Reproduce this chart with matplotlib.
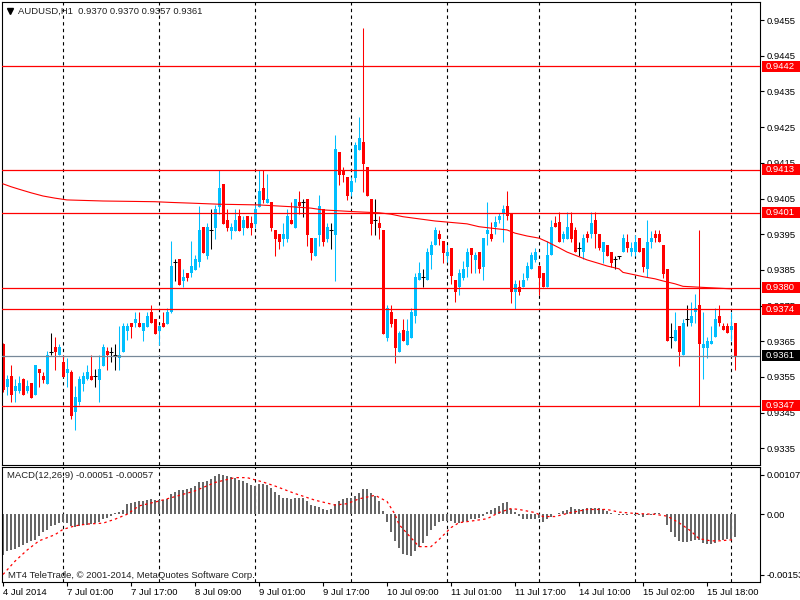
import matplotlib
matplotlib.use("Agg")
import matplotlib.pyplot as plt
import matplotlib.transforms as mtransforms
from matplotlib.patches import Rectangle

plt.rcParams["font.family"] = ["Liberation Sans", "DejaVu Sans"]
plt.rcParams["font.size"] = 6.8

# AUDUSD H1, 4 Jul 2014 - 16 Jul 2014, one value per bar
open_ = [
    0.93642, 0.93523, 0.93553, 0.93512, 0.93512, 0.93544, 0.93512, 0.93533, 0.93500, 0.93572,
    0.93553, 0.93531, 0.93621, 0.93634, 0.93611, 0.93592, 0.93562, 0.93564, 0.93453, 0.93481,
    0.93531, 0.93544, 0.93553, 0.93553, 0.93542, 0.93581, 0.93623, 0.93621, 0.93611, 0.93602,
    0.93621, 0.93680, 0.93701, 0.93701, 0.93701, 0.93680, 0.93690, 0.93732, 0.93712, 0.93680,
    0.93701, 0.93699, 0.93732, 0.93871, 0.93881, 0.93820, 0.93841, 0.93840, 0.93851, 0.93871,
    0.93970, 0.93890, 0.93961, 0.93968, 0.94027, 0.94091, 0.93990, 0.93959, 0.93959, 0.94001,
    0.93968, 0.94001, 0.93981, 0.93979, 0.94027, 0.94079, 0.94038, 0.94040, 0.93962, 0.93951,
    0.93937, 0.93937, 0.93990, 0.93968, 0.94040, 0.94040, 0.94049, 0.93939, 0.93890, 0.93949,
    0.94021, 0.93937, 0.93961, 0.93949, 0.94180, 0.94128, 0.94110, 0.94069, 0.94108, 0.94187,
    0.94208, 0.94138, 0.94049, 0.93990, 0.93982, 0.93962, 0.93660, 0.93731, 0.93712, 0.93621,
    0.93682, 0.93640, 0.93660, 0.93720, 0.93821, 0.93830, 0.93821, 0.93891, 0.93919, 0.93951,
    0.93931, 0.93890, 0.93911, 0.93822, 0.93801, 0.93828, 0.93859, 0.93911, 0.93878, 0.93900,
    0.93859, 0.93950, 0.93951, 0.93970, 0.93989, 0.94009, 0.94029, 0.94010, 0.93788, 0.93801,
    0.93801, 0.93828, 0.93852, 0.93878, 0.93861, 0.93840, 0.93801, 0.93891, 0.93982, 0.93984,
    0.93937, 0.93937, 0.93980, 0.93962, 0.93910, 0.93899, 0.93950, 0.93950, 0.93990, 0.93950,
    0.93899, 0.93920, 0.93899, 0.93880, 0.93889, 0.93899, 0.93929, 0.93899, 0.93899, 0.93938,
    0.93910, 0.93852, 0.93929, 0.93950, 0.93950, 0.93920, 0.93852, 0.93661, 0.93652, 0.93693,
    0.93611, 0.93712, 0.93702, 0.93733, 0.93752, 0.93632, 0.93632, 0.93642, 0.93661, 0.93722,
    0.93693, 0.93693, 0.93682, 0.93700,
]
high = [
    0.93645, 0.93556, 0.93584, 0.93544, 0.93553, 0.93547, 0.93542, 0.93533, 0.93584, 0.93572,
    0.93565, 0.93623, 0.93673, 0.93662, 0.93642, 0.93611, 0.93602, 0.93570, 0.93525, 0.93553,
    0.93564, 0.93584, 0.93612, 0.93572, 0.93611, 0.93642, 0.93634, 0.93634, 0.93642, 0.93693,
    0.93701, 0.93701, 0.93701, 0.93732, 0.93732, 0.93701, 0.93732, 0.93752, 0.93712, 0.93693,
    0.93732, 0.93742, 0.93931, 0.93881, 0.93881, 0.93853, 0.93841, 0.93931, 0.93892, 0.94029,
    0.93970, 0.93981, 0.94021, 0.94032, 0.94130, 0.94091, 0.94021, 0.93981, 0.94021, 0.94021,
    0.94001, 0.94001, 0.94001, 0.94031, 0.94130, 0.94130, 0.94119, 0.94040, 0.93962, 0.93951,
    0.93981, 0.94021, 0.94040, 0.94049, 0.94071, 0.94049, 0.94049, 0.93939, 0.93939, 0.94060,
    0.94021, 0.93981, 0.93981, 0.94228, 0.94180, 0.94139, 0.94110, 0.94110, 0.94208, 0.94278,
    0.94528, 0.94138, 0.94049, 0.94049, 0.94001, 0.93962, 0.93751, 0.93751, 0.93712, 0.93680,
    0.93712, 0.93712, 0.93743, 0.93840, 0.93873, 0.93852, 0.93911, 0.93931, 0.93970, 0.93962,
    0.93931, 0.93920, 0.93911, 0.93822, 0.93852, 0.93876, 0.93911, 0.93911, 0.93900, 0.93900,
    0.93939, 0.94041, 0.93984, 0.94001, 0.94010, 0.94032, 0.94071, 0.94010, 0.93822, 0.93822,
    0.93840, 0.93873, 0.93900, 0.93911, 0.93861, 0.93840, 0.93931, 0.93990, 0.94001, 0.94011,
    0.93959, 0.94011, 0.94011, 0.93969, 0.93929, 0.93950, 0.93959, 0.94011, 0.94011, 0.93950,
    0.93929, 0.93920, 0.93899, 0.93889, 0.93889, 0.93950, 0.93950, 0.93929, 0.93948, 0.93938,
    0.93910, 0.93990, 0.93959, 0.93962, 0.93962, 0.93920, 0.93852, 0.93702, 0.93733, 0.93693,
    0.93712, 0.93752, 0.93761, 0.93782, 0.93962, 0.93733, 0.93663, 0.93693, 0.93742, 0.93752,
    0.93702, 0.93702, 0.93733, 0.93700,
]
low = [
    0.93508, 0.93500, 0.93481, 0.93481, 0.93505, 0.93500, 0.93505, 0.93492, 0.93500, 0.93523,
    0.93533, 0.93531, 0.93611, 0.93570, 0.93611, 0.93551, 0.93523, 0.93433, 0.93402, 0.93472,
    0.93511, 0.93542, 0.93542, 0.93523, 0.93481, 0.93581, 0.93570, 0.93592, 0.93570, 0.93570,
    0.93621, 0.93654, 0.93660, 0.93691, 0.93690, 0.93652, 0.93690, 0.93701, 0.93671, 0.93640,
    0.93690, 0.93699, 0.93728, 0.93820, 0.93809, 0.93801, 0.93820, 0.93830, 0.93851, 0.93859,
    0.93898, 0.93880, 0.93909, 0.93937, 0.94007, 0.93979, 0.93959, 0.93937, 0.93959, 0.93959,
    0.93949, 0.93968, 0.93949, 0.93968, 0.94027, 0.94038, 0.94038, 0.93959, 0.93890, 0.93909,
    0.93918, 0.93929, 0.93979, 0.93968, 0.94007, 0.93999, 0.93918, 0.93879, 0.93890, 0.93918,
    0.93918, 0.93929, 0.93909, 0.93820, 0.94089, 0.94097, 0.94047, 0.94058, 0.94097, 0.94187,
    0.94069, 0.94058, 0.93949, 0.93949, 0.93937, 0.93671, 0.93651, 0.93691, 0.93590, 0.93621,
    0.93651, 0.93640, 0.93660, 0.93700, 0.93821, 0.93801, 0.93821, 0.93852, 0.93919, 0.93919,
    0.93870, 0.93873, 0.93810, 0.93760, 0.93779, 0.93822, 0.93831, 0.93840, 0.93840, 0.93840,
    0.93822, 0.93920, 0.93931, 0.93951, 0.93980, 0.93929, 0.93989, 0.93757, 0.93740, 0.93780,
    0.93801, 0.93822, 0.93852, 0.93873, 0.93780, 0.93801, 0.93801, 0.93891, 0.93970, 0.93929,
    0.93929, 0.93937, 0.93929, 0.93899, 0.93889, 0.93880, 0.93929, 0.93938, 0.93910, 0.93906,
    0.93870, 0.93889, 0.93859, 0.93852, 0.93880, 0.93899, 0.93899, 0.93889, 0.93889, 0.93899,
    0.93845, 0.93831, 0.93910, 0.93929, 0.93929, 0.93826, 0.93652, 0.93632, 0.93652, 0.93582,
    0.93611, 0.93693, 0.93693, 0.93702, 0.93470, 0.93544, 0.93602, 0.93642, 0.93661, 0.93693,
    0.93682, 0.93672, 0.93652, 0.93570,
]
close = [
    0.93514, 0.93544, 0.93500, 0.93525, 0.93533, 0.93500, 0.93525, 0.93492, 0.93584, 0.93562,
    0.93542, 0.93611, 0.93621, 0.93621, 0.93634, 0.93551, 0.93572, 0.93441, 0.93494, 0.93544,
    0.93553, 0.93564, 0.93542, 0.93553, 0.93572, 0.93634, 0.93611, 0.93621, 0.93611, 0.93611,
    0.93693, 0.93693, 0.93690, 0.93712, 0.93690, 0.93701, 0.93721, 0.93701, 0.93671, 0.93693,
    0.93690, 0.93732, 0.93861, 0.93871, 0.93809, 0.93830, 0.93828, 0.93861, 0.93881, 0.93962,
    0.93898, 0.93970, 0.93961, 0.94021, 0.94079, 0.93979, 0.93968, 0.93970, 0.93990, 0.93959,
    0.93990, 0.93968, 0.93968, 0.94021, 0.94071, 0.94046, 0.94049, 0.93968, 0.93937, 0.93929,
    0.93951, 0.94001, 0.93979, 0.94049, 0.94029, 0.94040, 0.93949, 0.93898, 0.93939, 0.94029,
    0.93929, 0.93970, 0.93961, 0.94189, 0.94117, 0.94117, 0.94058, 0.94099, 0.94200, 0.94220,
    0.94148, 0.94058, 0.93979, 0.93990, 0.93968, 0.93671, 0.93743, 0.93699, 0.93632, 0.93672,
    0.93651, 0.93680, 0.93732, 0.93830, 0.93840, 0.93830, 0.93900, 0.93920, 0.93962, 0.93937,
    0.93898, 0.93900, 0.93832, 0.93788, 0.93840, 0.93853, 0.93900, 0.93891, 0.93891, 0.93852,
    0.93939, 0.93962, 0.93937, 0.93984, 0.94001, 0.94021, 0.94001, 0.93788, 0.93810, 0.93788,
    0.93822, 0.93861, 0.93891, 0.93900, 0.93828, 0.93801, 0.93891, 0.93970, 0.93970, 0.93929,
    0.93950, 0.93969, 0.93937, 0.93899, 0.93910, 0.93938, 0.93938, 0.93980, 0.93950, 0.93910,
    0.93929, 0.93889, 0.93870, 0.93880, 0.93889, 0.93938, 0.93910, 0.93910, 0.93929, 0.93899,
    0.93859, 0.93929, 0.93938, 0.93938, 0.93929, 0.93838, 0.93652, 0.93661, 0.93682, 0.93621,
    0.93702, 0.93712, 0.93722, 0.93742, 0.93642, 0.93642, 0.93652, 0.93652, 0.93712, 0.93702,
    0.93682, 0.93672, 0.93693, 0.93610,
]

# moving average line, read at points along its length
ma_bar = [0, 2, 4, 7, 10, 13, 16, 25, 38, 42, 47, 54, 64, 72, 77, 80, 88, 94, 97, 100,
          104, 108, 113, 116, 119, 122, 126, 128, 131, 134, 136, 139, 141, 144, 146, 149,
          151, 154, 155, 158, 160, 163, 165, 168, 170, 175, 182]
ma_val = [0.94091, 0.94083, 0.94076, 0.94066, 0.94057, 0.94051, 0.94046, 0.94043, 0.94041,
          0.94039, 0.94037, 0.94034, 0.94032, 0.94027, 0.94023, 0.94018, 0.94013, 0.94010,
          0.94006, 0.93999, 0.93993, 0.93987, 0.93982, 0.93979, 0.93971, 0.93967, 0.93962,
          0.93953, 0.93945, 0.93939, 0.93929, 0.93912, 0.93900, 0.93887, 0.93878, 0.93868,
          0.93861, 0.93853, 0.93843, 0.93836, 0.93831, 0.93825, 0.93819, 0.93811, 0.93804,
          0.93801, 0.93797]

# MACD(12,26,9) main histogram, one per bar
macd_hist = [
    -0.00092, -0.00083, -0.00081, -0.00078, -0.00073, -0.00070, -0.00064, -0.00060, -0.00057, -0.00049,
    -0.00041, -0.00035, -0.00026, -0.00023, -0.00019, -0.00017, -0.00020, -0.00026, -0.00029, -0.00026,
    -0.00025, -0.00023, -0.00022, -0.00020, -0.00017, -0.00011, -0.00008, -0.00004, 0.00004, 0.00006,
    0.00010, 0.00023, 0.00026, 0.00029, 0.00030, 0.00030, 0.00032, 0.00034, 0.00032, 0.00032,
    0.00032, 0.00035, 0.00045, 0.00051, 0.00054, 0.00055, 0.00058, 0.00060, 0.00063, 0.00072,
    0.00073, 0.00075, 0.00079, 0.00087, 0.00092, 0.00090, 0.00087, 0.00085, 0.00082, 0.00078,
    0.00075, 0.00070, 0.00066, 0.00064, 0.00068, 0.00068, 0.00066, 0.00060, 0.00051, 0.00043,
    0.00036, 0.00036, 0.00034, 0.00036, 0.00036, 0.00036, 0.00030, 0.00020, 0.00019, 0.00017,
    0.00013, 0.00010, 0.00012, 0.00024, 0.00030, 0.00035, 0.00038, 0.00038, 0.00041, 0.00049,
    0.00057, 0.00057, 0.00048, 0.00041, 0.00030, 0.00008, -0.00018, -0.00040, -0.00060, -0.00076,
    -0.00090, -0.00093, -0.00094, -0.00083, -0.00073, -0.00064, -0.00049, -0.00035, -0.00026, -0.00017,
    -0.00015, -0.00014, -0.00014, -0.00019, -0.00019, -0.00017, -0.00014, -0.00011, -0.00010, -0.00009,
    -0.00004, 0.00005, 0.00009, 0.00014, 0.00019, 0.00026, 0.00029, 0.00011, 0.00005, -0.00004,
    -0.00010, -0.00011, -0.00010, -0.00010, -0.00009, -0.00017, -0.00011, -0.00005, 0.00001, 0.00004,
    0.00007, 0.00010, 0.00017, 0.00013, 0.00011, 0.00013, 0.00014, 0.00015, 0.00015, 0.00014,
    0.00013, 0.00008, 0.00004, 0.00000, -0.00002, -0.00002, -0.00001, 0.00000, -0.00001, -0.00002,
    -0.00005, -0.00002, -0.00001, 0.00002, 0.00002, 0.00000, -0.00025, -0.00040, -0.00051, -0.00060,
    -0.00063, -0.00062, -0.00060, -0.00059, -0.00059, -0.00064, -0.00066, -0.00066, -0.00064, -0.00058,
    -0.00057, -0.00055, -0.00055, -0.00051,
]
sig_bar = [0, 3, 6, 9, 13, 15, 18, 21, 25, 28, 31, 34, 39, 43, 48, 53, 58, 61, 65, 68,
           73, 78, 83, 86, 89, 93, 96, 98, 99, 102, 104, 107, 109, 112, 114, 118, 121, 124,
           127, 129, 133, 135, 138, 142, 146, 151, 154, 158, 163, 166, 169, 172, 174, 177,
           179, 183]
sig_val = [-0.00136, -0.00106, -0.00081, -0.00060, -0.00046, -0.00034, -0.00026, -0.00022,
           -0.00020, -0.00011, 0.00000, 0.00019, 0.00030, 0.00040, 0.00053, 0.00072, 0.00083,
           0.00083, 0.00073, 0.00064, 0.00047, 0.00032, 0.00021, 0.00024, 0.00035, 0.00043,
           0.00029, 0.00000, -0.00023, -0.00053, -0.00073, -0.00073, -0.00057, -0.00030,
           -0.00019, -0.00014, -0.00010, 0.00004, 0.00013, 0.00011, 0.00004, -0.00005,
           -0.00005, 0.00004, 0.00011, 0.00011, 0.00005, 0.00002, 0.00000, -0.00004,
           -0.00019, -0.00038, -0.00055, -0.00060, -0.00060, -0.00057]

levels = [0.9442, 0.9413, 0.9401, 0.9380, 0.9374, 0.9347]
price_ticks = [0.9335, 0.9345, 0.9355, 0.9365, 0.9375, 0.9385, 0.9395,
               0.9405, 0.9415, 0.9425, 0.9435, 0.9445, 0.9455]
day_bars = [15, 39, 63, 87, 111, 134, 158, 182]
time_bars = [0, 16, 32, 48, 64, 80, 96, 112, 128, 144, 160, 176]
time_labels = ["4 Jul 2014", "7 Jul 01:00", "7 Jul 17:00", "8 Jul 09:00", "9 Jul 01:00",
               "9 Jul 17:00", "10 Jul 09:00", "11 Jul 01:00", "11 Jul 17:00",
               "14 Jul 10:00", "15 Jul 02:00", "15 Jul 18:00"]

bull = "#00bfff"
bear = "#ff0000"
W, H = 800, 600

fig = plt.figure(figsize=(8, 6), dpi=100)


def rect(x0, y0, x1, y1):
    return [x0 / W, 1 - y1 / H, (x1 - x0) / W, (y1 - y0) / H]


ax = fig.add_axes(rect(2, 2, 760, 465))
ax2 = fig.add_axes(rect(2, 467, 760, 582))

# price scale: 35700 px per 1.0, 0.9455 at y=20
ax.set_ylim(0.9455 - 445 / 35700, 0.9455 + 18 / 35700)
for a in (ax, ax2):
    a.set_xlim(-0.25, 189.25)
    for s in a.spines.values():
        s.set_linewidth(0.8)
        s.set_color("black")

# candles
x = list(range(len(close)))
colors = [bull if c > o else bear if c < o else "black" for o, c in zip(open_, close)]
ax.vlines(x, low, high, colors=colors, lw=0.75, zorder=2)
bottoms = [min(o, c) for o, c in zip(open_, close)]
heights = [abs(c - o) for o, c in zip(open_, close)]
ax.bar(x, heights, 0.75, bottom=bottoms, color=colors, lw=0, zorder=2.1)
doji = [i for i in x if open_[i] == close[i]]
ax.hlines([open_[i] for i in doji], [i - 0.45 for i in doji], [i + 0.45 for i in doji],
          colors="black", lw=0.75, zorder=2.2)

ax.plot(ma_bar, ma_val, color="red", lw=0.8, zorder=3)

for lv in levels:
    ax.axhline(lv, color="red", lw=0.9, zorder=4)
bid = close[-1]
ax.axhline(bid, color="#778899", lw=0.9, zorder=4)

for a in (ax, ax2):
    for b in day_bars:
        a.axvline(b, color="black", lw=0.8, ls=(0, (3, 3)), zorder=1)

# right price scale
ax.yaxis.tick_right()
ax.set_yticks(price_ticks)
ax.set_yticklabels(["%.4f" % p for p in price_ticks])
ax.tick_params(axis="y", direction="out", length=3, width=0.8, pad=2, labelsize=6.8)
ax.tick_params(axis="x", bottom=False, labelbottom=False)

trans = mtransforms.blended_transform_factory(ax.transAxes, ax.transData)
box_h = 11 / 35700
for lv, fc in [(v, "red") for v in levels] + [(bid, "black")]:
    ax.add_patch(Rectangle((760 / 758, lv - box_h / 2), 40 / 758, box_h, transform=trans,
                           fc=fc, ec="none", clip_on=False, zorder=10))
    ax.text(764 / 758, lv, "%.4f" % lv, transform=trans, color="white", va="center",
            ha="left", fontsize=6.8, clip_on=False, zorder=11)

ax.plot([8 / 758], [1 - 9 / 463], marker="v", ms=4.5, color="black", lw=0,
        transform=ax.transAxes, clip_on=False)
ax.text(16 / 758, 1 - 9 / 463, "AUDUSD,H1  %.4f %.4f %.4f %.4f" % (open_[-1], high[-1], low[-1], close[-1]),
        transform=ax.transAxes, va="center", ha="left", fontsize=6.8, color="#202020")

# MACD panel
m_lo, m_hi = -0.00153, 0.00107
ax2.set_ylim(m_lo, m_hi)
ax2.bar(x, macd_hist, 0.65, color="#666666", lw=0, zorder=2)
ax2.plot(sig_bar, sig_val, color="red", lw=0.9, ls=(0, (2, 2.5)), zorder=3)

rng = m_hi - m_lo
ax2.yaxis.tick_right()
ax2.set_yticks([m_hi - 8 / 115 * rng, 0, m_lo + 7 / 115 * rng])
ax2.set_yticklabels(["%.5f" % m_hi, "0.00", "%.5f" % m_lo])
ax2.tick_params(axis="y", direction="out", length=3, width=0.8, pad=2, labelsize=6.8)

ax2.set_xticks(time_bars)
ax2.set_xticklabels(time_labels, ha="left")
ax2.tick_params(axis="x", direction="out", length=3, width=0.8, pad=1, labelsize=6.8)

ax2.text(5 / 758, 1 - 9 / 115, "MACD(12,26,9) %.5f %.5f" % (macd_hist[-1], sig_val[-1]),
         transform=ax2.transAxes, va="center", ha="left", fontsize=6.8, color="#202020")
ax2.text(6 / 758, 7 / 115, "MT4 TeleTrade, \u00a9 2001-2014, MetaQuotes Software Corp.",
         transform=ax2.transAxes, va="center", ha="left", fontsize=6.8, color="#202020")

fig.savefig("out.png", dpi=100, facecolor="white")
